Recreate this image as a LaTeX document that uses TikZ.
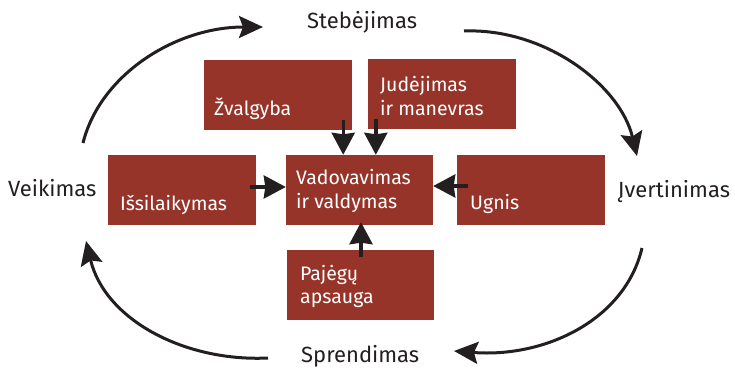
\documentclass[tikz,border=0pt]{standalone}
\usepackage{fontspec}
\setmainfont{Fira Sans}
\usetikzlibrary{arrows.meta}
\definecolor{boxred}{RGB}{151,52,42}
\definecolor{ink}{RGB}{35,31,32}
\tikzset{
  box/.style={fill=boxred, draw=none, inner sep=0pt, minimum width=148pt, minimum height=70pt},
  intext/.style={anchor=base west, inner sep=0pt, text=white, font=\fontsize{19.5}{23}\selectfont},
  outtext/.style={anchor=base west, inner sep=0pt, text=ink, font=\fontsize{22}{26}\selectfont},
  arr/.style={draw=ink, line width=3.4pt, -{Stealth[length=22pt,width=23pt,inset=1.5pt]}},
  cyc/.style={draw=ink, line width=3pt, -{Stealth[length=24pt,width=22pt,inset=4pt]}}
}
\begin{document}
\begin{tikzpicture}[x=1pt,y=-1pt]
\useasboundingbox (0,0) rectangle (735,369);
% boxes
\node[box] (zv)  at (278,94.5) {};
\node[box] (jud) at (442,93.5) {};
\node[box] (iss) at (182,190) {};
\node[box, minimum width=147pt] (vad) at (359.5,190) {};
\node[box] (ugn) at (531,190) {};
\node[box, minimum width=147pt] (paj) at (360.5,284.5) {};
% box texts
\node[intext] (zvt) at (214,115) {Žvalgyba};
\node[intext] (judt1) at (380,91) {Judėjimas};
\node[intext] (judt2) at (380,115) {ir manevras};
\node[intext] (isst) at (120,210) {Išsilaikymas};
\node[intext] (vadt1) at (296,184) {Vadovavimas};
\node[intext] (vadt2) at (296,208) {ir valdymas};
\node[intext] (ugnt) at (470,209) {Ugnis};
\node[intext] (pajt1) at (300,280) {Pajėgų};
\node[intext] (pajt2) at (300,303) {apsauga};
% outer labels
\node[outtext] (st) at (307,29) {Stebėjimas};
\node[outtext] (ve) at (8,196) {Veikimas};
\node[outtext] (iv) at (618,197) {Įvertinimas};
\node[outtext] (sp) at (301,362) {Sprendimas};
% inner arrows
\draw[arr] ([xshift=-9pt,yshift=10pt]zv.south east) -- ([xshift=-9pt]zv.south east |- vad.north);
\draw[arr] ([xshift=8pt,yshift=10pt]jud.south west) -- ([xshift=8pt]jud.south west |- vad.north);
\draw[arr] ([xshift=-6pt,yshift=3pt]iss.east) -- ([yshift=3pt]vad.west);
\draw[arr] ([xshift=11pt,yshift=4pt]ugn.west) -- ([yshift=4pt]vad.east);
\draw[arr] ([xshift=0.5pt,yshift=-8pt]paj.north) -- ([xshift=1.5pt,yshift=3pt]vad.south);
% cycle arrows
\coordinate (a1s) at (83,143);  \coordinate (a1e) at (263,27);
\coordinate (a2s) at (464,31);  \coordinate (a2e) at (637,156);
\coordinate (a3s) at (642,248); \coordinate (a3e) at (454,351);
\coordinate (a4s) at (268,358); \coordinate (a4e) at (86,241);
\draw[cyc] (a1s) .. controls (100,75) and (175,27) .. (a1e);
\draw[cyc] (a2s) .. controls (545,28) and (620,85) .. (a2e);
\draw[cyc] (a3s) .. controls (625,320) and (545,358) .. (a3e);
\draw[cyc] (a4s) .. controls (185,362) and (105,320) .. (a4e);
\end{tikzpicture}
\end{document}
